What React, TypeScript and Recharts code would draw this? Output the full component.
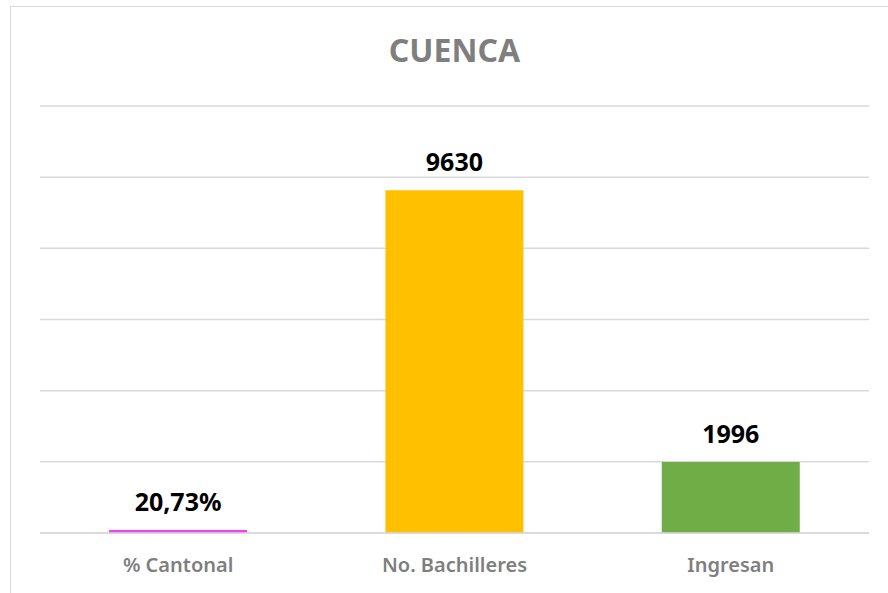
import { Bar, BarChart, CartesianGrid, Cell, LabelList, XAxis, YAxis } from "recharts";

const categories = ["% Cantonal", "No. Bachilleres", "Ingresan"];
const values = [20.73, 9630, 1996];
const valueLabels = ["20,73%", "9630", "1996"];
const barColors = ["#f53ff5", "#ffc000", "#70ad47"];
const yTicks = [0, 2000, 4000, 6000, 8000, 10000, 12000];

const rows = categories.map((name, i) => ({
  name,
  value: values[i],
  label: valueLabels[i],
}));

const FONT = "'Noto Sans', 'Open Sans', sans-serif";

export default function App() {
  return (
    <div style={{ position: "fixed", left: 0, top: 0, width: 888, height: 593, background: "#fff", overflow: "hidden" }}>
      {/* chart frame */}
      <div
        style={{
          position: "absolute",
          left: 10,
          top: 6,
          width: 900,
          height: 620,
          border: "1.5px solid #d9d9d9",
          boxSizing: "border-box",
        }}
      />
      <div
        style={{
          position: "absolute",
          left: 40,
          width: 829,
          top: 28,
          textAlign: "center",
          fontFamily: FONT,
          fontWeight: 700,
          fontSize: 32,
          color: "#7f7f7f",
          lineHeight: "44px",
        }}
      >
        CUENCA
      </div>
      <div style={{ position: "absolute", left: 0, top: 0 }}>
        <BarChart
          width={888}
          height={593}
          data={rows}
          margin={{ top: 106, right: 19, bottom: 30, left: 40 }}
          barCategoryGap="25%"
        >
          <CartesianGrid vertical={false} stroke="#d9d9d9" strokeWidth={1.5} />
          <YAxis hide domain={[0, 12000]} ticks={yTicks} />
          <XAxis
            dataKey="name"
            height={30}
            axisLine={{ stroke: "#d9d9d9", strokeWidth: 1.5 }}
            tickLine={false}
            tickMargin={19}
            tick={{ fill: "#7f7f7f", fontFamily: FONT, fontWeight: 600, fontSize: 20 }}
          />
          <Bar dataKey="value" isAnimationActive={false} minPointSize={3}>
            {rows.map((r, i) => (
              <Cell key={r.name} fill={barColors[i]} />
            ))}
            <LabelList
              dataKey="label"
              position="top"
              offset={19}
              fill="#000"
              style={{ fontFamily: FONT, fontWeight: 700, fontSize: 25 }}
            />
          </Bar>
        </BarChart>
      </div>
    </div>
  );
}
